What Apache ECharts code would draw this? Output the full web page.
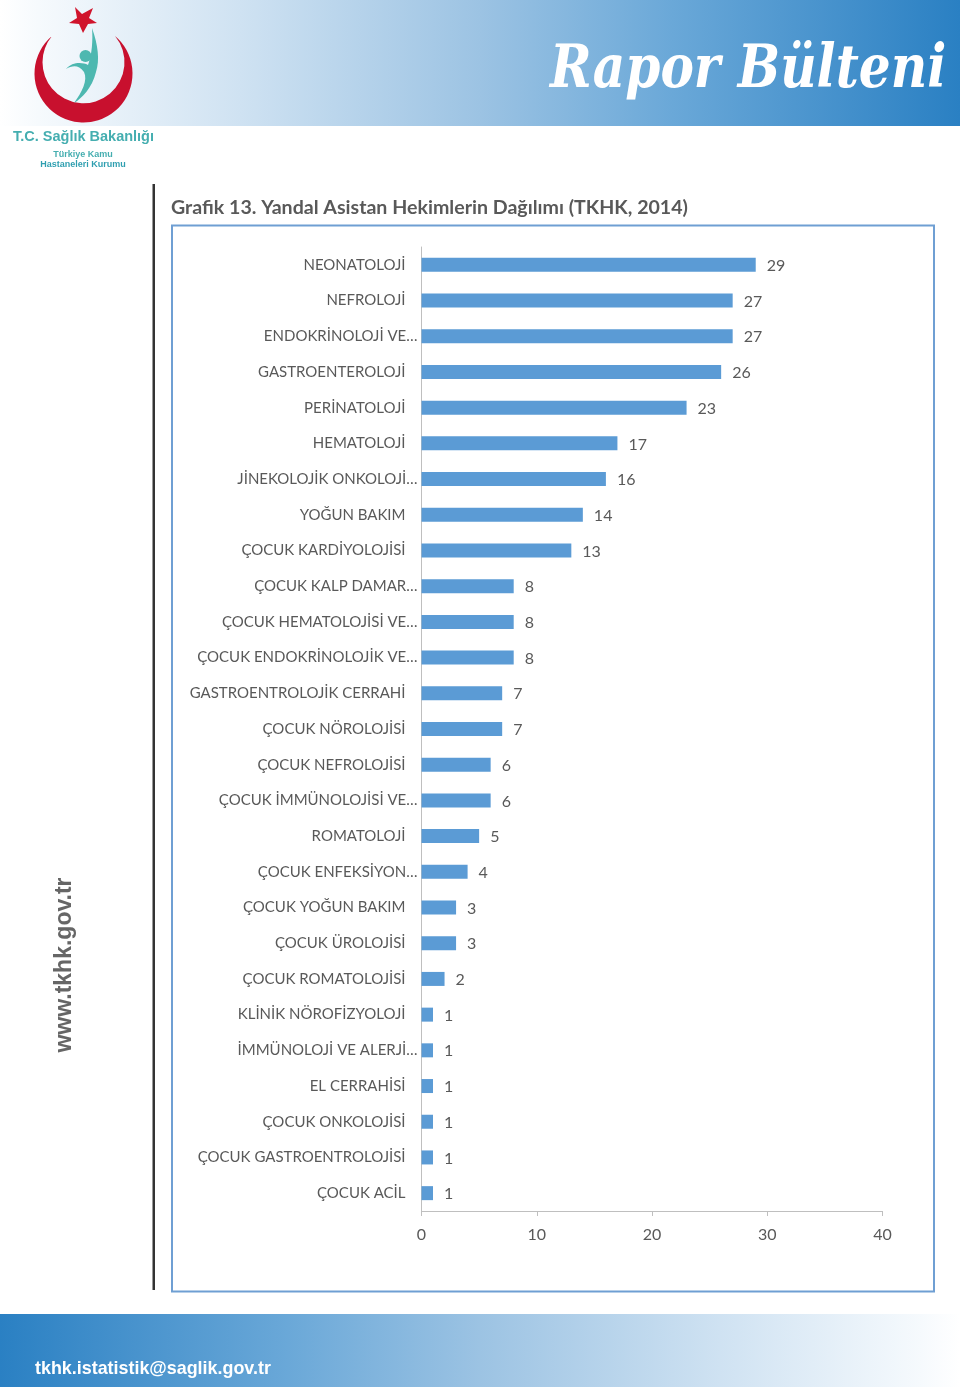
<!DOCTYPE html>
<html><head><meta charset="utf-8">
<style>html,body{margin:0;padding:0;background:#fff}#c{width:960px;height:1387px}</style>
<script src="https://cdn.jsdelivr.net/npm/echarts@6/dist/echarts.min.js"></script>
</head><body><div id="c"></div>
<script>
const categories = ["NEONATOLOJİ","NEFROLOJİ","ENDOKRİNOLOJİ VE…","GASTROENTEROLOJİ","PERİNATOLOJİ","HEMATOLOJİ","JİNEKOLOJİK ONKOLOJİ…","YOĞUN BAKIM","ÇOCUK KARDİYOLOJİSİ","ÇOCUK KALP DAMAR…","ÇOCUK HEMATOLOJİSİ VE…","ÇOCUK ENDOKRİNOLOJİK VE…","GASTROENTROLOJİK CERRAHİ","ÇOCUK NÖROLOJİSİ","ÇOCUK NEFROLOJİSİ","ÇOCUK İMMÜNOLOJİSİ VE…","ROMATOLOJİ","ÇOCUK ENFEKSİYON…","ÇOCUK YOĞUN BAKIM","ÇOCUK ÜROLOJİSİ","ÇOCUK ROMATOLOJİSİ","KLİNİK NÖROFİZYOLOJİ","İMMÜNOLOJİ VE ALERJİ…","EL CERRAHİSİ","ÇOCUK ONKOLOJİSİ","ÇOCUK GASTROENTROLOJİSİ","ÇOCUK ACİL"];
const values = [29,27,27,26,23,17,16,14,13,8,8,8,7,7,6,6,5,4,3,3,2,1,1,1,1,1,1];
const axisTicks = [0,40,10];
const titleText = "Grafik 13. Yandal Asistan Hekimlerin Dağılımı (TKHK, 2014)";
const FF = "Lato, 'Open Sans', sans-serif";
const GREY = "#595959";
const stops = [[0,'#ffffff'],[0.04,'#f6fafd'],[0.25,'#cfe2f2'],[0.5,'#9cc3e3'],[0.7,'#6aa8d8'],[1,'#2a80c3']];
const grad = a=>({type:'linear',x:0,y:0,x2:1,y2:0,colorStops:a.map(s=>({offset:s[0],color:s[1]}))});
const rev = stops.map(s=>[1-s[0],s[1]]).reverse();
echarts.graphic.registerShape('crescent',echarts.graphic.extendPath('M52 36 A49 49 0 1 0 115 36 A41 41 0 1 1 52 36 Z',{}));
echarts.graphic.registerShape('logostar',echarts.graphic.extendPath('M75 7 L82 14 L93 8 L89 18 L97 23 L88 24 L83 33 L79 24 L69 23 L77 18 Z',{}));
echarts.graphic.registerShape('logofig',echarts.graphic.extendPath('M92 28 C98 45 100 60 96 72 C92 88 82 98 74 103 C82 92 88 80 84 72 C78 64 72 66 66 69 C72 62 82 62 88 65 C92 55 93 40 92 28 Z',{}));
const chart = echarts.init(document.getElementById('c'),null,{renderer:'canvas'});
chart.setOption({
  animation:false,
  backgroundColor:'#fff',
  graphic:{elements:[
    {type:'rect',z:-5,shape:{x:0,y:0,width:960,height:126},style:{fill:grad(stops)}},
    {type:'rect',z:-5,shape:{x:0,y:1314,width:960,height:73},style:{fill:grad(rev)}},
    {type:'crescent',style:{fill:'#c8102e'}},
    {type:'logostar',style:{fill:'#d0142c'}},
    {type:'circle',shape:{cx:85.5,cy:56,r:6},style:{fill:'#4db8b0'}},
    {type:'logofig',style:{fill:'#4db8b0'}},
    {type:'text',style:{x:83.5,y:137,text:'T.C. Sağlık Bakanlığı',font:"bold 14.5px 'Liberation Sans'",fill:'#45aeb0',align:'center',verticalAlign:'middle'}},
    {type:'text',style:{x:83,y:154.5,text:'Türkiye Kamu',font:"bold 9px 'Liberation Sans'",fill:'#45aeb0',align:'center',verticalAlign:'middle'}},
    {type:'text',style:{x:83,y:164.5,text:'Hastaneleri Kurumu',font:"bold 9px 'Liberation Sans'",fill:'#2f9fb0',align:'center',verticalAlign:'middle'}},
    {type:'text',x:550,y:71,scaleX:0.836,style:{x:0,y:0,text:'Rapor Bülteni',font:"italic bold 60px 'DejaVu Serif'",fill:'#fff',align:'left',verticalAlign:'middle'}},
    {type:'rect',shape:{x:152.5,y:184,width:2.5,height:1106},style:{fill:'#333'}},
    {type:'text',style:{x:171,y:208,text:titleText,font:"bold 19.6px "+FF,fill:GREY,align:'left',verticalAlign:'middle'}},
    {type:'rect',z:-3,shape:{x:172,y:225.5,width:762,height:1066},style:{fill:'#fff',stroke:'#6f9fd3',lineWidth:2}},
    {type:'text',x:65,y:965,rotation:Math.PI/2,style:{x:0,y:0,text:'www.tkhk.gov.tr',font:"bold 23px 'Liberation Sans'",fill:'#666',align:'center',verticalAlign:'middle'}},
    {type:'text',style:{x:35,y:1369,text:'tkhk.istatistik@saglik.gov.tr',font:"bold 17.9px 'Liberation Sans'",fill:'#fff',align:'left',verticalAlign:'middle'}}
  ]},
  grid:{left:421.5,top:247,width:461,height:964,containLabel:false},
  xAxis:{type:'value',min:axisTicks[0],max:axisTicks[1],interval:axisTicks[2],
    splitLine:{show:false},
    axisLine:{show:true,lineStyle:{color:'#bfbfbf',width:1}},
    axisTick:{show:true,length:5,lineStyle:{color:'#bfbfbf'}},
    axisLabel:{color:GREY,fontFamily:FF,fontSize:16,margin:16}},
  yAxis:{type:'category',inverse:true,data:categories,
    axisLine:{show:true,lineStyle:{color:'#bfbfbf',width:1}},
    axisTick:{show:false},
    axisLabel:{interval:0,margin:4,color:GREY,fontFamily:FF,fontSize:15,
      formatter:v=>v.endsWith('…')?'{t|'+v+'}':'{t|'+v+'}{p|}',
      rich:{t:{color:GREY,fontFamily:FF,fontSize:15},p:{width:12}}}},
  series:[{type:'bar',data:values,barWidth:14,itemStyle:{color:'#5b9bd5'},
    label:{show:true,position:'right',distance:11,offset:[0,1],color:GREY,fontFamily:FF,fontSize:16}}]
});
</script></body></html>
